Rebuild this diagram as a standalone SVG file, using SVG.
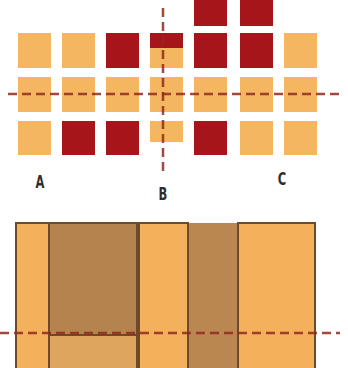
<svg xmlns="http://www.w3.org/2000/svg" width="348" height="368" viewBox="0 0 348 368">
<style>
.l{fill:#F4B660}
.d{fill:#A5151A}
.dash{stroke:#8E2A1C;stroke-width:2.5;stroke-dasharray:9 5;fill:none;opacity:0.85}
.lbl{font-family:"DejaVu Sans Condensed","Liberation Sans",sans-serif;font-weight:bold;font-size:16px;fill:#2e2e2e;text-anchor:middle}
.ob{stroke:#6E4A2A;stroke-width:2;fill:none}
</style>
<rect width="348" height="368" fill="#fff"/>
<g id="grid">
<rect class="d" x="194" y="-4" width="33" height="30"/>
<rect class="d" x="240" y="-4" width="33" height="30"/>
<rect class="l" x="18" y="33" width="33" height="35"/>
<rect class="l" x="62" y="33" width="33" height="35"/>
<rect class="d" x="106" y="33" width="33" height="35"/>
<rect class="l" x="150" y="48" width="33" height="20"/>
<rect class="d" x="150" y="33" width="33" height="15"/>
<rect class="d" x="194" y="33" width="33" height="35"/>
<rect class="d" x="240" y="33" width="33" height="35"/>
<rect class="l" x="284" y="33" width="33" height="35"/>
<rect class="l" x="18" y="77" width="33" height="35"/>
<rect class="l" x="62" y="77" width="33" height="35"/>
<rect class="l" x="106" y="77" width="33" height="35"/>
<rect class="l" x="150" y="77" width="33" height="35"/>
<rect class="l" x="194" y="77" width="33" height="35"/>
<rect class="l" x="240" y="77" width="33" height="35"/>
<rect class="l" x="284" y="77" width="33" height="35"/>
<rect class="l" x="18" y="121" width="33" height="34"/>
<rect class="d" x="62" y="121" width="33" height="34"/>
<rect class="d" x="106" y="121" width="33" height="34"/>
<rect class="l" x="150" y="121" width="33" height="21"/>
<rect class="d" x="194" y="121" width="33" height="34"/>
<rect class="l" x="240" y="121" width="33" height="34"/>
<rect class="l" x="284" y="121" width="33" height="34"/>
</g>
<g id="bars">
<rect x="16" y="223" width="121" height="145" fill="#F2B15A"/>
<rect x="49" y="223" width="88" height="112" fill="#B5834D"/>
<rect x="49" y="335" width="88" height="33" fill="#DDA55E"/>
<rect x="139" y="223" width="49" height="145" fill="#F2B15A"/>
<rect x="188" y="223" width="50" height="145" fill="#B9874F"/>
<rect x="238" y="223" width="77" height="145" fill="#F2B15A"/>
<rect class="ob" x="16" y="223" width="121" height="146"/>
<line class="ob" x1="49" y1="223" x2="49" y2="368"/>
<line class="ob" x1="49" y1="335" x2="137" y2="335"/>
<rect class="ob" x="139" y="223" width="49" height="146"/>
<rect class="ob" x="238" y="223" width="77" height="146"/>
</g>
<g id="connectors">
<line class="dash" x1="163" y1="8" x2="163" y2="174"/>
<line class="dash" x1="8" y1="94" x2="344" y2="94"/>
<line class="dash" x1="0" y1="333" x2="340" y2="333"/>
</g>
<g id="labels">
<text class="lbl" transform="translate(40 188) scale(0.8 1.05)">A</text>
<text class="lbl" transform="translate(163 200) scale(0.8 1.05)">B</text>
<text class="lbl" transform="translate(282 185) scale(0.8 1.05)">C</text>
</g>
</svg>
